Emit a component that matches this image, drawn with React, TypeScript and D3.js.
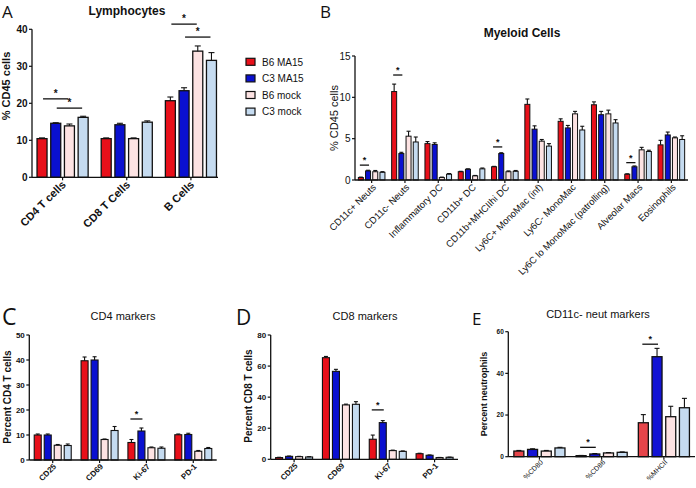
import React from 'react';
import * as d3 from 'd3';

const seriesNames = ["B6 MA15", "C3 MA15", "B6 mock", "C3 mock"];
const seriesColors = ["#e8101a", "#0a10d0", "#fde3e3", "#c5dbf0"];
const seriesColorsE = ["#e6454a", "#1414d4", "#fde3e3", "#c5dbf0"];

// A: Lymphocytes
const lymphCats = ["CD4 T cells", "CD8 T Cells", "B Cells"];
const lymphMeans = [[10.45, 10.45, 20.7], [14.6, 14.2, 23.4], [13.9, 10.45, 34.1], [16.2, 14.9, 31.6]];
const lymphErrs = [[0.2, 0.2, 1.0], [0.15, 0.4, 0.8], [0.5, 0.2, 1.4], [0.3, 0.35, 2.1]];
const lymphTicks = [0, 10, 20, 30, 40];
const lymphSig = [[0, 0, 2, 21.2], [0, 1, 3, 18.7], [2, 0, 2, 41.4], [2, 1, 3, 37.9]];

// B: Myeloid cells
const myeCats = ["CD11c+ Neuts", "CD11c- Neuts", "Inflammatory DC", "CD11b+ DC", "CD11b+MHCIIhi DC", "Ly6C+ MonoMac (inf)", "Ly6C- MonoMac", "Ly6C lo MonoMac (patrolling)", "Alveolar Macs", "Eosinophils"];
const myeMeans = [
  [0.3, 10.7, 4.4, 1.0, 1.6, 9.15, 7.1, 9.1, 0.7, 4.25],
  [1.1, 3.2, 4.3, 1.3, 3.2, 6.15, 6.3, 7.9, 1.6, 5.45],
  [1.0, 5.3, 0.3, 0.5, 1.0, 4.7, 8.0, 8.0, 3.65, 5.1],
  [0.93, 4.6, 0.7, 1.35, 1.05, 4.1, 6.05, 6.9, 3.45, 4.9]];
const myeErrs = [
  [0.05, 0.9, 0.25, 0.05, 0.05, 0.65, 0.3, 0.35, 0.05, 0.55],
  [0.08, 0.15, 0.2, 0.05, 0.1, 0.4, 0.3, 0.4, 0.1, 0.35],
  [0.15, 0.6, 0.05, 0.05, 0.1, 0.2, 0.3, 0.45, 0.3, 0.1],
  [0.08, 0.6, 0.08, 0.1, 0.1, 0.3, 0.45, 0.4, 0.15, 0.45]];
const myeTicks = [0, 5, 10, 15];
const myeSig = [[0, 0, 1, 1.8], [1, 0, 1, 12.7], [4, 0, 1, 4.0], [8, 0, 1, 2.1]];

// C: CD4 markers
const markerCats = ["CD25", "CD69", "Ki-67", "PD-1"];
const cd4Means = [[10, 39.7, 7, 10.1], [10, 40, 11.6, 10.2], [5.9, 8.2, 4.9, 3.5], [5.8, 11.8, 4.7, 4.6]];
const cd4Errs = [[0.4, 1.5, 1.2, 0.3], [0.4, 1.3, 1.2, 0.5], [0.3, 0.2, 0.3, 0.3], [0.6, 1.6, 0.5, 0.4]];
const cd4Ticks = [0, 10, 20, 30, 40, 50];
const cd4Sig = [[2, 0, 1, 16.4]];

// D: CD8 markers
const cd8Means = [[1.1, 65.4, 12.9, 3.6], [1.9, 56.6, 23.6, 2.6], [1.7, 35, 5.6, 1.1], [1.5, 35.4, 5.1, 1.3]];
const cd8Errs = [[0.2, 0.8, 2.7, 0.3], [0.2, 1.3, 1.3, 0.2], [0.2, 0.5, 0.3, 0.1], [0.2, 1.7, 0.3, 0.1]];
const cd8Ticks = [0, 20, 40, 60, 80];
const cd8Sig = [[2, 0, 1, 31.8]];

// E: CD11c- neut markers
const neutCats = ["%CD80", "%CD86", "%MHCII"];
const neutMeans = [[2.7, 0.5, 16.3], [3.5, 1.3, 48], [2.7, 1.8, 19.2], [4.2, 2.1, 23.5]];
const neutErrs = [[0.3, 0.1, 3.9], [0.3, 0.2, 4], [0.3, 0.2, 5], [0.3, 0.2, 4.5]];
const neutTicks = [0, 20, 40, 60];
const neutSig = [[1, 0, 1, 4.5], [2, 0, 1, 54]];

const SANS = "'Liberation Sans', Arial, sans-serif";
const LETTER = "'Open Sans', 'DejaVu Sans', sans-serif";

function Panel(p: any) {
  const y = d3.scaleLinear().domain(p.yDomain).range(p.yRange);
  const xb = d3.scaleBand<string>().domain(p.cats).range([p.bx0, p.bx1]).padding(0);
  const n = p.means.length;
  const groupW = (n - 1) * p.step + p.barW;
  const barX = (ci: number, si: number) => (xb(p.cats[ci]) as number) + xb.bandwidth() / 2 - groupW / 2 + si * p.step;
  const y0 = y(0);
  const cap = p.capW;
  return (
    <g>
      <text x={p.letterX} y={p.letterY} fontFamily={LETTER} fontSize={p.letterSize} fill="#111">{p.letter}</text>
      <text x={p.titleX} y={p.titleY} textAnchor="middle" fontFamily={SANS} fontSize={p.titleSize} fontWeight={p.titleWeight} fill="#111">{p.title}</text>
      <text x={p.ylabX} y={p.ylabY} transform={`rotate(-90 ${p.ylabX} ${p.ylabY})`} textAnchor="middle" fontFamily={SANS} fontSize={p.ylabSize} fontWeight={p.ylabWeight} fill="#111">{p.ylabel}</text>
      {p.means.map((ser: number[], si: number) => ser.map((v: number, ci: number) => {
        const x = barX(ci, si);
        const e = p.errs[si][ci];
        const cx = x + p.barW / 2;
        return (
          <g key={`b${si}-${ci}`}>
            <rect x={x} y={y(v)} width={p.barW} height={y0 - y(v)} fill={p.colors[si]} stroke="#111" strokeWidth={p.barStroke} />
            <line x1={cx} x2={cx} y1={y(v)} y2={y(v + e)} stroke="#111" strokeWidth={1.1} />
            <line x1={cx - cap / 2} x2={cx + cap / 2} y1={y(v + e)} y2={y(v + e)} stroke="#111" strokeWidth={1.1} />
          </g>
        );
      }))}
      <line x1={p.x0} x2={p.x0} y1={y(p.ticks[p.ticks.length - 1])} y2={y0} stroke="#111" strokeWidth={1.3} />
      <line x1={p.x0} x2={p.x1} y1={y0} y2={y0} stroke="#111" strokeWidth={1.3} />
      {p.ticks.map((t: number) => (
        <g key={`t${t}`}>
          <line x1={p.x0 - 3} x2={p.x0} y1={y(t)} y2={y(t)} stroke="#111" strokeWidth={1.2} />
          <text x={p.x0 - 4.5} y={y(t)} dy="0.35em" textAnchor="end" fontFamily={SANS} fontSize={p.tickSize} fontWeight={p.tickWeight} fill="#111">{t}</text>
        </g>
      ))}
      {p.cats.map((c: string) => {
        const cx = (xb(c) as number) + xb.bandwidth() / 2;
        const lx = cx + p.xlabDx;
        const ly = y0 + p.xlabDy;
        return (
          <g key={`x${c}`}>
            <line x1={cx} x2={cx} y1={y0} y2={y0 + 3} stroke="#111" strokeWidth={1.2} />
            <text x={lx} y={ly} transform={`rotate(-45 ${lx} ${ly})`} textAnchor="end" fontFamily={SANS} fontSize={p.xlabSize}
              fontWeight={p.xlabWeight} fill="#111">{c}</text>
          </g>
        );
      })}
      {p.sig.map((s: number[], i: number) => {
        const xa = barX(s[0], s[1]) + p.barW / 2 - p.sigExt;
        const xz = barX(s[0], s[2]) + p.barW / 2 + p.sigExt;
        const ly = y(s[3]);
        return (
          <g key={`s${i}`}>
            <line x1={xa} x2={xz} y1={ly} y2={ly} stroke="#111" strokeWidth={1.3} />
            <text x={(xa + xz) / 2} y={ly - 2} textAnchor="middle" fontFamily={SANS} fontSize={p.sigSize} fontWeight="bold" fill="#111">*</text>
          </g>
        );
      })}
    </g>
  );
}

export default function App() {
  return (
    <svg width={696} height={488} style={{ position: 'absolute', left: 0, top: 0, background: '#fff' }}>
      <rect x={0} y={0} width={696} height={488} fill="#fff" />
      <Panel letter="A" letterX={2} letterY={18} letterSize={17}
        title="Lymphocytes" titleX={127} titleY={15} titleSize={12} titleWeight="bold"
        ylabel="% CD45 cells" ylabX={10} ylabY={86} ylabSize={11} ylabWeight="bold"
        cats={lymphCats} means={lymphMeans} errs={lymphErrs} colors={seriesColors}
        x0={32} x1={218} bx0={30.5} bx1={223} yDomain={[0, 40]} yRange={[177.3, 29.3]} ticks={lymphTicks}
        barW={10} step={13.7} capW={6} barStroke={1.3}
        tickSize={10} tickWeight="bold" xlabSize={11} xlabWeight="bold" xlabDx={4} xlabDy={8}
        sig={lymphSig} sigExt={-1} sigSize={10} />
      <Panel letter="B" letterX={320} letterY={18} letterSize={17}
        title="Myeloid Cells" titleX={522} titleY={37} titleSize={12} titleWeight="bold"
        ylabel="% CD45 cells" ylabX={338} ylabY={118} ylabSize={11} ylabWeight="normal"
        cats={myeCats} means={myeMeans} errs={myeErrs} colors={seriesColors}
        x0={355} x1={688} bx0={355} bx1={688} yDomain={[0, 15]} yRange={[180, 56]} ticks={myeTicks}
        barW={5} step={7.2} capW={4} barStroke={1}
        tickSize={10} tickWeight="normal" xlabSize={9.5} xlabWeight="normal" xlabDx={5} xlabDy={8}
        sig={myeSig} sigExt={1} sigSize={9} />
      <Panel letter="C" letterX={2} letterY={325} letterSize={23}
        title="CD4 markers" titleX={123} titleY={320} titleSize={11} titleWeight="normal"
        ylabel="Percent CD4 T cells" ylabX={11} ylabY={397} ylabSize={10} ylabWeight="bold"
        cats={markerCats} means={cd4Means} errs={cd4Errs} colors={seriesColors}
        x0={29.3} x1={216.7} bx0={29.3} bx1={216.7} yDomain={[0, 50]} yRange={[460, 335]} ticks={cd4Ticks}
        barW={7} step={10} capW={4} barStroke={1.1}
        tickSize={8} tickWeight="bold" xlabSize={8} xlabWeight="bold" xlabDx={4} xlabDy={7}
        sig={cd4Sig} sigExt={1} sigSize={9} />
      <Panel letter="D" letterX={236} letterY={325} letterSize={21}
        title="CD8 markers" titleX={365} titleY={320} titleSize={11} titleWeight="normal"
        ylabel="Percent CD8 T cells" ylabX={252} ylabY={396} ylabSize={10} ylabWeight="bold"
        cats={markerCats} means={cd8Means} errs={cd8Errs} colors={seriesColors}
        x0={270.7} x1={458} bx0={270.7} bx1={458} yDomain={[0, 80]} yRange={[459.3, 335]} ticks={cd8Ticks}
        barW={7} step={10} capW={4} barStroke={1.1}
        tickSize={8} tickWeight="bold" xlabSize={8} xlabWeight="bold" xlabDx={4} xlabDy={7}
        sig={cd8Sig} sigExt={1} sigSize={9} />
      <Panel letter="E" letterX={472} letterY={325} letterSize={17}
        title="CD11c- neut markers" titleX={598} titleY={318} titleSize={11} titleWeight="normal"
        ylabel="Percent neutrophils" ylabX={487} ylabY={394} ylabSize={9} ylabWeight="bold"
        cats={neutCats} means={neutMeans} errs={neutErrs} colors={seriesColorsE}
        x0={508.3} x1={695} bx0={508.3} bx1={695} yDomain={[0, 60]} yRange={[456.7, 331.7]} ticks={neutTicks}
        barW={10} step={13.7} capW={5} barStroke={1.3}
        tickSize={6.5} tickWeight="bold" xlabSize={7} xlabWeight="normal" xlabDx={4} xlabDy={6}
        sig={neutSig} sigExt={1} sigSize={9} />
      {seriesNames.map((nm, i) => (
        <g key={nm}>
          <rect x={246} y={58.3 + i * 16.6} width={9} height={7} fill={seriesColors[i]} stroke="#111" strokeWidth={1.2} />
          <text x={262} y={65.5 + i * 16.6} fontFamily={SANS} fontSize={10} fill="#111">{nm}</text>
        </g>
      ))}
    </svg>
  );
}
